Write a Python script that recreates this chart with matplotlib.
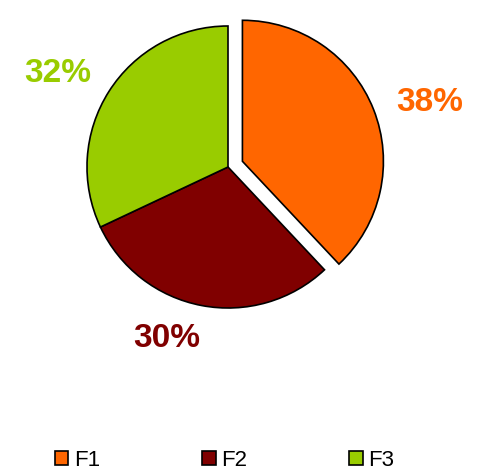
import matplotlib.pyplot as plt
import numpy as np

# data
labels = ["F1", "F2", "F3"]
shares = [38, 30, 32]
colors = ["#FF6600", "#800000", "#99CC00"]
explode = [0.11, 0, 0]

plt.rcParams['font.family'] = ['Liberation Sans', 'DejaVu Sans']

W, H = 480, 470
fig = plt.figure(figsize=(W / 100, H / 100), dpi=100)

# pie centre (228, 167) px from top-left, radius 141 px
cx, cy, r = 228, 167, 141
lim = 1.6
ax = fig.add_axes([(cx - lim * r) / W, (H - cy - lim * r) / H,
                   2 * lim * r / W, 2 * lim * r / H])
ax.set_aspect('equal')
ax.axis('off')

wedges, texts, autotexts = ax.pie(
    shares, explode=explode, colors=colors, startangle=90, counterclock=False,
    autopct='%.0f%%', pctdistance=1.35,
    wedgeprops=dict(edgecolor='black', linewidth=1.2),
    textprops=dict(fontsize=24, fontweight='bold'))
ax.set_xlim(-lim, lim)
ax.set_ylim(-lim, lim)

# label placement: (radius, angle shift in degrees) relative to wedge mid
label_pos = [(1.39, -4.2), (1.29, -9), (1.38, 3.6)]
for w, t, (rad, dang), c, ex in zip(wedges, autotexts, label_pos, colors, explode):
    mid = np.deg2rad((w.theta1 + w.theta2) / 2)
    ang = mid + np.deg2rad(dang)
    t.set_position((rad * np.cos(ang) + ex * np.cos(mid),
                    rad * np.sin(ang) + ex * np.sin(mid)))
    t.set_color(c)

fig.legend(wedges, labels, loc='center', bbox_to_anchor=(0.468, (H - 460) / H),
           ncol=3, frameon=False, fontsize=16, handlelength=0.6, handleheight=0.6,
           handletextpad=0.25, columnspacing=4.6)

fig.savefig("out.png", dpi=100)
